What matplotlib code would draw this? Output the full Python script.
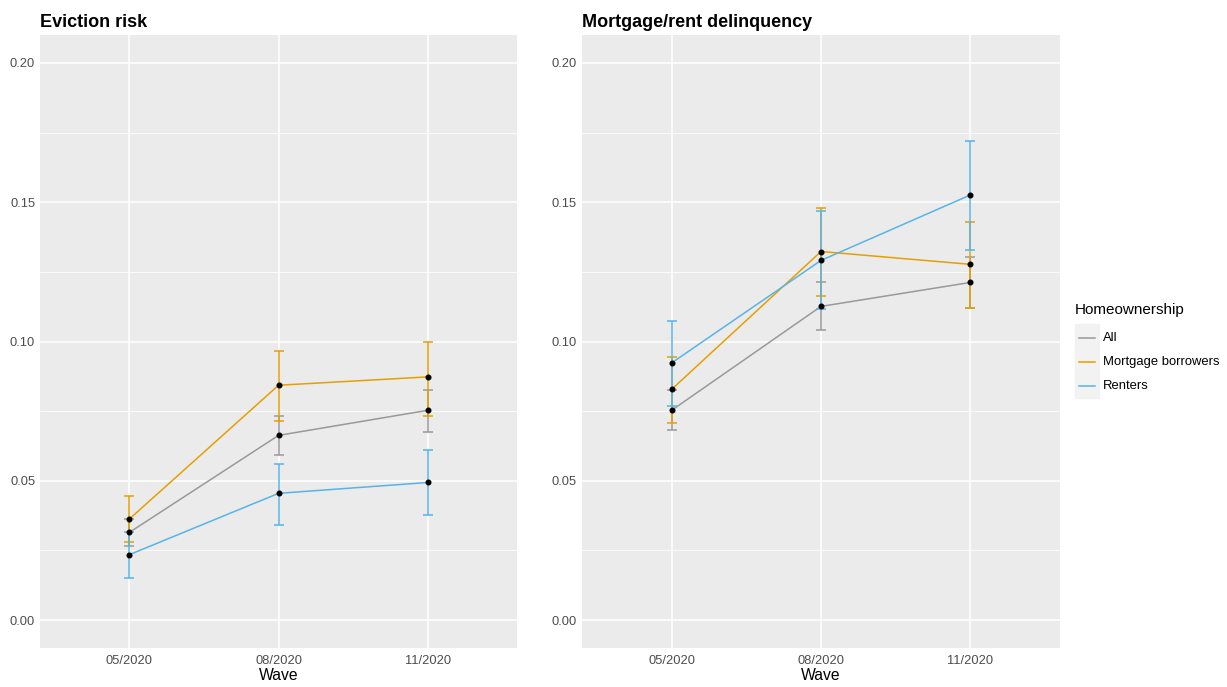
import numpy as np
import matplotlib.pyplot as plt
from matplotlib.patches import Rectangle
from matplotlib.lines import Line2D

plt.rcParams['font.family'] = ['Liberation Sans', 'DejaVu Sans']

waves = ["05/2020", "08/2020", "11/2020"]
groups = ["All", "Mortgage borrowers", "Renters"]
colors = ["#999999", "#E69F00", "#56B4E9"]

# Eviction risk: estimate, lower, upper
evict_est = [[0.0315, 0.0663, 0.0753],
             [0.0363, 0.0843, 0.0873],
             [0.0235, 0.0455, 0.0494]]
evict_lo = [[0.0267, 0.0591, 0.0676],
            [0.0282, 0.0716, 0.0734],
            [0.0152, 0.0343, 0.0377]]
evict_hi = [[0.0363, 0.0732, 0.0825],
            [0.0447, 0.0965, 0.1000],
            [0.0315, 0.0561, 0.0610]]

# Mortgage/rent delinquency
delinq_est = [[0.0753, 0.1126, 0.1212],
              [0.0828, 0.1323, 0.1277],
              [0.0923, 0.1291, 0.1526]]
delinq_lo = [[0.0681, 0.1040, 0.1120],
             [0.0706, 0.1165, 0.1120],
             [0.0770, 0.1115, 0.1328]]
delinq_hi = [[0.0825, 0.1215, 0.1305],
             [0.0946, 0.1480, 0.1428],
             [0.1074, 0.1470, 0.1718]]

fig = plt.figure(figsize=(12.27, 6.87), dpi=100)
ax1 = fig.add_axes([0.0326, 0.0568, 0.3888, 0.8922])
ax2 = fig.add_axes([0.4743, 0.0568, 0.3896, 0.8922])

def panel(ax, title, est, lo, hi):
    ax.set_facecolor("#EBEBEB")
    x = np.arange(len(waves))
    for i in range(len(groups)):
        e = np.array(est[i])
        yerr = [e - np.array(lo[i]), np.array(hi[i]) - e]
        ax.errorbar(x, e, yerr=yerr, color=colors[i], lw=1.1, elinewidth=1.1,
                    capsize=3.5, capthick=1.1, zorder=3 + i)
    for i in range(len(groups)):
        ax.scatter(x, est[i], s=11, color="black", zorder=10)
    ax.set_xlim(-0.6, 2.6)
    ax.set_ylim(-0.01, 0.21)
    ax.set_yticks([0, 0.05, 0.10, 0.15, 0.20])
    ax.set_yticklabels(["0.00", "0.05", "0.10", "0.15", "0.20"])
    ax.set_yticks([0.025, 0.075, 0.125, 0.175], minor=True)
    ax.set_xticks(x)
    ax.set_xticklabels(waves)
    ax.grid(True, which="major", color="white", lw=1.1, zorder=0)
    ax.grid(True, which="minor", axis="y", color="white", lw=0.55, zorder=0)
    ax.set_axisbelow(True)
    for s in ax.spines.values():
        s.set_visible(False)
    ax.tick_params(which="major", length=0, pad=5, labelcolor="#4D4D4D",
                   labelsize=9.3)
    ax.tick_params(axis="y", pad=3.5)
    ax.tick_params(which="minor", length=0)
    ax.set_xlabel("Wave", fontsize=11.3, labelpad=1)
    ax.set_title(title, loc="left", fontweight="bold", fontsize=13, pad=6)

panel(ax1, "Eviction risk", evict_est, evict_lo, evict_hi)
panel(ax2, "Mortgage/rent delinquency", delinq_est, delinq_lo, delinq_hi)

# legend
fig.text(1075 / 1227, 1 - 310 / 687, "Homeownership", fontsize=11, va="center")
fig.patches.append(Rectangle((1075 / 1227, 1 - 398 / 687), 24 / 1227, 74 / 687,
                             transform=fig.transFigure, color="#F2F2F2", zorder=0))
for i, g in enumerate(groups):
    yy = 1 - (338 + 24 * i) / 687
    fig.add_artist(Line2D([1079 / 1227, 1095 / 1227], [yy, yy], color=colors[i],
                          lw=1.1, transform=fig.transFigure))
    fig.text(1103 / 1227, yy, g, fontsize=9.4, va="center")

fig.savefig("out.png", dpi=100)
